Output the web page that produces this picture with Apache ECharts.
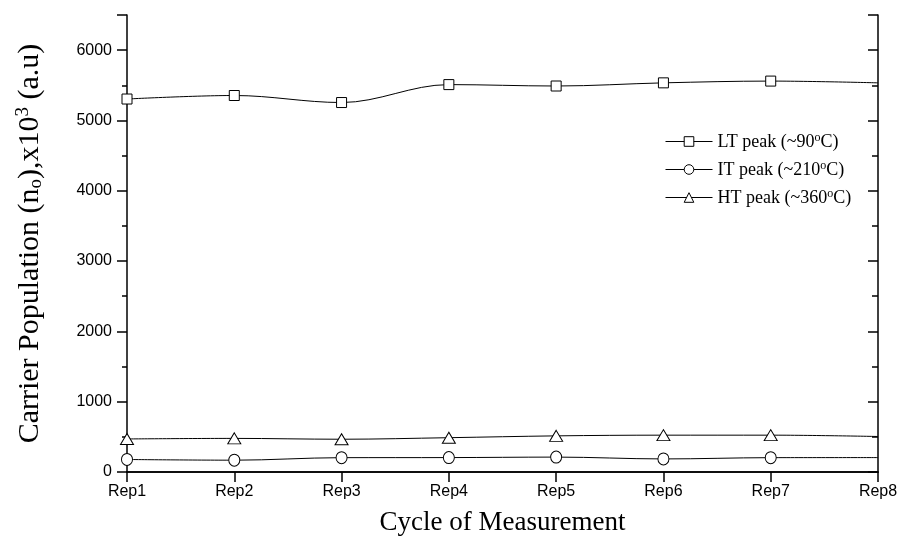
<!DOCTYPE html>
<html>
<head>
<meta charset="utf-8">
<script src="https://cdn.jsdelivr.net/npm/echarts@6/dist/echarts.min.js"></script>
<style>html,body{margin:0;padding:0;background:#fff;}#c{width:904px;height:550px;}</style>
</head>
<body>
<div id="c"></div>
<script>
var categories = ['Rep1','Rep2','Rep3','Rep4','Rep5','Rep6','Rep7','Rep8'];
var ltPeak = [5305, 5355, 5255, 5510, 5490, 5535, 5560, 5535];
var itPeak = [178, 168, 204, 205, 212, 186, 204, 205];
var htPeak = [470, 478, 466, 488, 514, 524, 524, 505];
var seriesNames = ['LT peak (~90\u00baC)', 'IT peak (~210\u00baC)', 'HT peak (~360\u00baC)'];
var yTicks = [0, 1000, 2000, 3000, 4000, 5000, 6000];

var legendLabels = {};
legendLabels[seriesNames[0]] = '{t|LT peak (~90}{s|o}{t|C)}';
legendLabels[seriesNames[1]] = '{t|IT peak (~210}{s|o}{t|C)}';
legendLabels[seriesNames[2]] = '{t|HT peak (~360}{s|o}{t|C)}';

function mk(arr) {
  return arr.map(function (v, i) {
    return i === arr.length - 1 ? { value: v, symbol: 'none' } : v;
  });
}
var lineStyle = { color: '#000', width: 1 };
var itemStyle = { color: '#fff', borderColor: '#000', borderWidth: 1 };

var chart = echarts.init(document.getElementById('c'), null, { renderer: 'canvas' });
var axisLineStyle = { color: '#000', width: 1.5 };
var tickStyle = { color: '#000', width: 1.5 };
function hiddenValueAxis(pos, interval, len, inside, showLine) {
  return {
    type: 'value', min: 0, max: 6500, interval: interval, position: pos,
    axisLine: { show: showLine, lineStyle: axisLineStyle },
    axisTick: { show: true, inside: inside, length: len, lineStyle: tickStyle },
    axisLabel: { show: false }, splitLine: { show: false }
  };
}
chart.setOption({
  animation: false,
  backgroundColor: '#fff',
  grid: { left: 127, right: 26, top: 15, bottom: 78 },
  legend: {
    orient: 'vertical',
    left: 665,
    top: 132,
    padding: 0,
    itemWidth: 47,
    itemHeight: 12,
    itemGap: 9,
    data: seriesNames,
    lineStyle: { width: 1, color: '#000' },
    itemStyle: { color: '#fff', borderColor: '#000', borderWidth: 1 },
    formatter: function (n) { return legendLabels[n]; },
    textStyle: {
      rich: {
        t: { fontFamily: 'Liberation Serif', fontSize: 18, color: '#000', lineHeight: 19, verticalAlign: 'bottom' },
        s: { fontFamily: 'Liberation Serif', fontSize: 12, color: '#000', lineHeight: 19, verticalAlign: 'top', padding: [0, 0, 7, 0] }
      }
    }
  },
  xAxis: [
    {
      type: 'category', data: categories, boundaryGap: false, position: 'bottom',
      axisLine: { lineStyle: axisLineStyle },
      axisTick: { inside: false, length: 10, lineStyle: tickStyle },
      axisLabel: { fontFamily: 'Liberation Sans', fontSize: 16, color: '#000', margin: 12 },
      splitLine: { show: false },
      name: 'Cycle of Measurement', nameLocation: 'middle', nameGap: 37,
      nameTextStyle: { fontFamily: 'Liberation Serif', fontSize: 27, color: '#000' }
    },
    {
      type: 'category', data: categories, boundaryGap: false, position: 'top',
      axisLine: { lineStyle: axisLineStyle },
      axisTick: { inside: true, length: 10, lineStyle: tickStyle },
      axisLabel: { show: false }, splitLine: { show: false }
    }
  ],
  yAxis: [
    {
      type: 'value', min: 0, max: 6500, interval: 500, position: 'left',
      axisLine: { show: true, lineStyle: axisLineStyle },
      axisTick: { show: true, inside: false, length: 5, lineStyle: tickStyle },
      axisLabel: {
        fontFamily: 'Liberation Sans', fontSize: 16, color: '#000', margin: 15,
        formatter: function (v) { return yTicks.indexOf(v) >= 0 ? String(v) : ''; }
      },
      splitLine: { show: false },
      name: '{t|Carrier Population (n}{b|o}{t|),x10}{p|3}{t| (a.u)}',
      nameLocation: 'middle', nameRotate: 90, nameGap: 81,
      nameTextStyle: {
        rich: {
          t: { fontFamily: 'Liberation Serif', fontSize: 30, color: '#000', lineHeight: 32, verticalAlign: 'middle' },
          b: { fontFamily: 'Liberation Serif', fontSize: 19, color: '#000', lineHeight: 32, verticalAlign: 'bottom' },
          p: { fontFamily: 'Liberation Serif', fontSize: 19, color: '#000', lineHeight: 32, verticalAlign: 'top' }
        }
      }
    },
    hiddenValueAxis('left', 1000, 10, false, false),
    hiddenValueAxis('right', 500, 6, true, true),
    hiddenValueAxis('right', 1000, 10, true, false)
  ],
  series: [
    { name: seriesNames[0], type: 'line', data: mk(ltPeak), smooth: 0.35, symbol: 'rect', symbolSize: 10,
      lineStyle: lineStyle, itemStyle: itemStyle, xAxisIndex: 0, yAxisIndex: 0 },
    { name: seriesNames[1], type: 'line', data: mk(itPeak), smooth: 0.35, symbol: 'circle', symbolSize: [11, 12],
      lineStyle: lineStyle, itemStyle: itemStyle, xAxisIndex: 0, yAxisIndex: 0 },
    { name: seriesNames[2], type: 'line', data: mk(htPeak), smooth: 0.35, symbol: 'triangle', symbolSize: [13, 11],
      lineStyle: lineStyle, itemStyle: itemStyle, xAxisIndex: 0, yAxisIndex: 0 }
  ]
});
</script>
</body>
</html>
